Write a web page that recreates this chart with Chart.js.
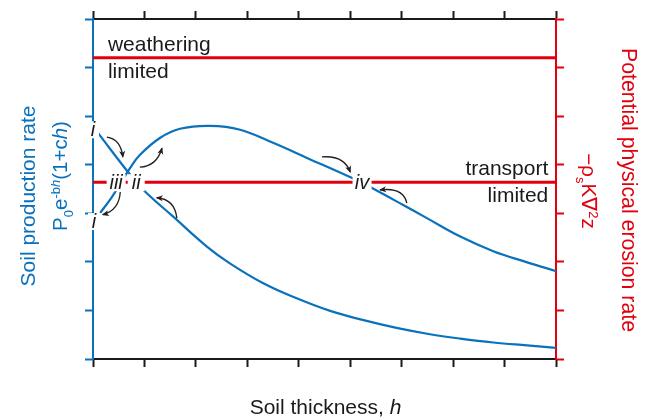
<!DOCTYPE html>
<html>
<head>
<meta charset="utf-8">
<script src="https://cdn.jsdelivr.net/npm/chart.js@4/dist/chart.umd.min.js"></script>
<style>
html, body { margin: 0; padding: 0; background: #fff; }
</style>
</head>
<body>
<canvas id="chart" width="650" height="417"></canvas>
<script>
// soil production with the humped function P0 e^-bh (1+ch)
var humpedH    = [0.14, 0.37, 0.72, 0.91, 1.30, 1.69, 2.27, 2.86, 3.50, 4.16, 5.05, 5.35, 6.03, 6.49, 7.14, 7.78, 8.44, 9.00];
var humpedRate = [3.01, 3.34, 3.93, 4.20, 4.55, 4.74, 4.80, 4.72, 4.45, 4.14, 3.72, 3.56, 3.17, 2.90, 2.52, 2.22, 1.99, 1.81];

// soil production decaying with depth
var decayH    = [0.10, 0.68, 0.97, 1.56, 2.22, 2.66, 3.31, 3.96, 4.61, 5.26, 5.90, 6.55, 7.14, 7.78, 8.44, 9.00];
var decayRate = [4.65, 3.85, 3.49, 2.93, 2.31, 1.97, 1.56, 1.25, 0.99, 0.80, 0.64, 0.51, 0.42, 0.34, 0.28, 0.23];

// potential physical erosion (flat lines)
var erosionH = [0, 9];
var weatheringLimited = [6.2, 6.2];
var transportLimited = [3.64, 3.64];

var blue = '#0a71bc';
var red = '#e2000f';
var ink = '#1a1a1a';
var FONT = '"Liberation Sans", Arial, sans-serif';

function toPoints(xs, ys) {
	var pts = [];
	for (var i = 0; i < xs.length; i++) pts.push({ x: xs[i], y: ys[i] });
	return pts;
}

// point labels on the curves (roman numerals), with white knock-out box
var pointLabels = [
	{ text: 'i',   h: 0.00, v: 4.73, half: 6 },
	{ text: 'i',   h: 0.02, v: 2.84, half: 6 },
	{ text: 'iii', h: 0.45, v: 3.64, half: 9.5 },
	{ text: 'ii',  h: 0.84, v: 3.64, half: 8.5 },
	{ text: 'iv',  h: 5.23, v: 3.64, half: 9.5 }
];

// curved arrows: start, control, end (in data units)
var arrows = [
	[[0.27, 4.57], [0.54, 4.53], [0.58, 4.16]],
	[[0.91, 3.95], [1.24, 3.97], [1.34, 4.34]],
	[[0.53, 3.44], [0.51, 3.07], [0.19, 2.97]],
	[[1.63, 2.90], [1.59, 3.29], [1.24, 3.32]],
	[[4.45, 4.16], [4.88, 4.20], [5.00, 3.85]],
	[[6.10, 3.21], [6.03, 3.54], [5.58, 3.48]]
];

function fontFor(run, size) {
	var s = (run.sub || run.sup) ? Math.round(size * 0.62) : size;
	return (run.italic ? 'italic ' : '') + s + 'px ' + FONT;
}

// draw text made of several runs (italic, sub, sup), centred at cx,cy
function drawRich(ctx, runs, cx, cy, angle, size, color) {
	ctx.save();
	ctx.translate(cx, cy);
	ctx.rotate(angle);
	ctx.fillStyle = color;
	ctx.textBaseline = 'alphabetic';
	ctx.textAlign = 'left';
	var total = 0;
	runs.forEach(function(r) {
		ctx.font = fontFor(r, size);
		r.w = ctx.measureText(r.t).width;
		total += r.w;
	});
	var x = -total / 2;
	var base = size * 0.36;
	runs.forEach(function(r) {
		ctx.font = fontFor(r, size);
		var dy = r.sub ? size * 0.28 : (r.sup ? -size * 0.36 : 0);
		ctx.fillText(r.t, x, base + dy);
		x += r.w;
	});
	ctx.restore();
}

function drawArrow(ctx, p0, p1, p2) {
	ctx.save();
	ctx.strokeStyle = '#231f20';
	ctx.fillStyle = '#231f20';
	ctx.lineWidth = 1.3;
	ctx.beginPath();
	ctx.moveTo(p0[0], p0[1]);
	ctx.quadraticCurveTo(p1[0], p1[1], p2[0], p2[1]);
	ctx.stroke();
	var ang = Math.atan2(p2[1] - p1[1], p2[0] - p1[0]);
	var len = 6, wid = 3;
	ctx.beginPath();
	ctx.moveTo(p2[0] + Math.cos(ang) * 1, p2[1] + Math.sin(ang) * 1);
	ctx.lineTo(p2[0] - Math.cos(ang) * len - Math.sin(ang) * wid, p2[1] - Math.sin(ang) * len + Math.cos(ang) * wid);
	ctx.lineTo(p2[0] - Math.cos(ang) * len * 0.7, p2[1] - Math.sin(ang) * len * 0.7);
	ctx.lineTo(p2[0] - Math.cos(ang) * len + Math.sin(ang) * wid, p2[1] - Math.sin(ang) * len - Math.cos(ang) * wid);
	ctx.closePath();
	ctx.fill();
	ctx.restore();
}

var annotations = {
	id: 'annotations',
	afterDraw: function(chart) {
		var ctx = chart.ctx;
		var xs = chart.scales.x, ys = chart.scales.y;
		var area = chart.chartArea;
		var px = function(h) { return xs.getPixelForValue(h); };
		var py = function(v) { return ys.getPixelForValue(v); };

		// labels on the curves
		pointLabels.forEach(function(l) {
			var x = px(l.h), y = py(l.v);
			ctx.fillStyle = '#fff';
			ctx.fillRect(x - l.half, y - 8, l.half * 2, 17);
			ctx.font = 'italic 20px ' + FONT;
			ctx.fillStyle = ink;
			ctx.textAlign = 'center';
			ctx.textBaseline = 'middle';
			ctx.fillText(l.text, x, y + 1);
		});

		arrows.forEach(function(a) {
			drawArrow(ctx,
				[px(a[0][0]), py(a[0][1])],
				[px(a[1][0]), py(a[1][1])],
				[px(a[2][0]), py(a[2][1])]);
		});

		// regime texts beside the erosion lines
		ctx.font = '21px ' + FONT;
		ctx.fillStyle = ink;
		ctx.textBaseline = 'alphabetic';
		ctx.textAlign = 'left';
		ctx.fillText('weathering', px(0.29), py(weatheringLimited[0]) - 7);
		ctx.fillText('limited', px(0.29), py(weatheringLimited[0]) + 20);
		ctx.textAlign = 'right';
		ctx.fillText('transport', px(8.85), py(transportLimited[0]) - 7);
		ctx.fillText('limited', px(8.85), py(transportLimited[0]) + 20);

		// axis titles
		var midY = (area.top + area.bottom) / 2;
		drawRich(ctx, [{ t: 'Soil thickness, ' }, { t: 'h', italic: true }],
			(area.left + area.right) / 2 + 1, 406, 0, 21, ink);
		drawRich(ctx, [{ t: 'Soil production rate' }], 27, midY + 7, -Math.PI / 2, 21, blue);
		drawRich(ctx, [
			{ t: 'P' }, { t: '0', sub: true }, { t: 'e' }, { t: '-b', sup: true }, { t: 'h', sup: true, italic: true },
			{ t: '(1+c' }, { t: 'h', italic: true }, { t: ')' }
		], 60, midY - 13, -Math.PI / 2, 20.5, blue);
		drawRich(ctx, [{ t: 'Potential physical erosion rate' }], 630, midY + 1, Math.PI / 2, 21.3, red);
		drawRich(ctx, [
			{ t: '\u2212\u03c1' }, { t: 's', sub: true }, { t: 'K\u2207' }, { t: '2', sup: true }, { t: 'z' }
		], 589, midY + 2, Math.PI / 2, 20.5, red);
	}
};

function axis(position, min, max, color) {
	return {
		type: 'linear',
		position: position,
		min: min,
		max: max,
		ticks: { display: false, stepSize: 1 },
		grid: { drawOnChartArea: false, drawTicks: true, tickLength: 8, tickWidth: 2, tickColor: color },
		border: { display: true, color: color, width: 2 }
	};
}

new Chart(document.getElementById('chart'), {
	type: 'line',
	data: {
		datasets: [
			{ data: toPoints(erosionH, weatheringLimited), borderColor: red, borderWidth: 3, pointRadius: 0 },
			{ data: toPoints(erosionH, transportLimited), borderColor: red, borderWidth: 3, pointRadius: 0 },
			{ data: toPoints(humpedH, humpedRate), borderColor: blue, borderWidth: 2.2, pointRadius: 0, tension: 0.4 },
			{ data: toPoints(decayH, decayRate), borderColor: blue, borderWidth: 2.2, pointRadius: 0, tension: 0.4 }
		]
	},
	options: {
		responsive: false,
		animation: false,
		devicePixelRatio: 1,
		layout: { padding: { left: 85, right: 86, top: 11, bottom: 50 } },
		plugins: { legend: { display: false }, tooltip: { enabled: false } },
		scales: {
			x: axis('bottom', 0, 9, ink),
			xTop: axis('top', 0, 9, ink),
			y: axis('left', 0, 7, blue),
			yRight: axis('right', 0, 7, red)
		}
	},
	plugins: [annotations]
});
</script>
</body>
</html>
